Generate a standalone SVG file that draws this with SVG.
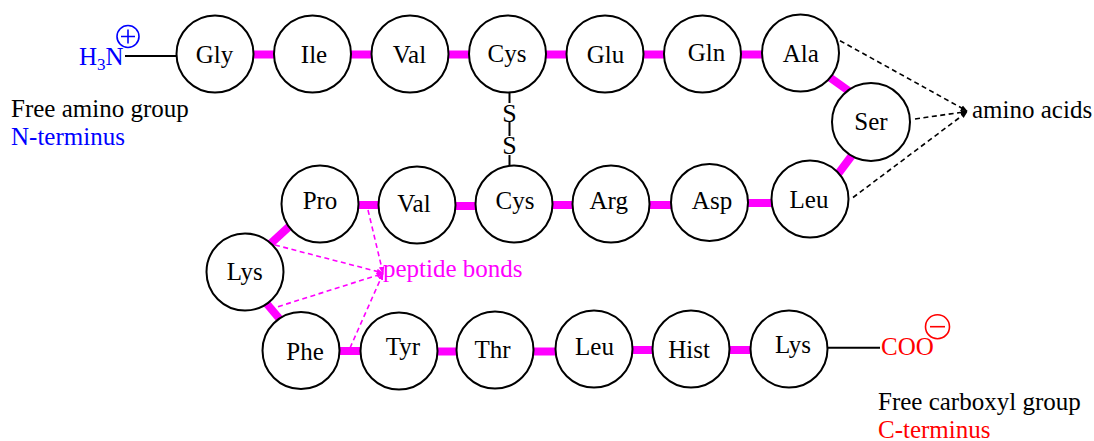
<svg xmlns="http://www.w3.org/2000/svg" width="1094" height="441" viewBox="0 0 1094 441">
<style>
text{font-family:"Liberation Serif","Times New Roman",serif;font-size:25px;fill:#000}
.node circle{fill:#fff;stroke:#000;stroke-width:2}
.node text{text-anchor:middle}
.bond{stroke:#ff00ff;stroke-width:8;fill:none}
.line{stroke:#000;stroke-width:2;fill:none}
.dk{stroke:#000;stroke-width:1.6;stroke-dasharray:5 3.5;fill:none}
.dm{stroke:#ff00ff;stroke-width:1.6;stroke-dasharray:5 3.5;fill:none}
.blue{fill:#0000ff}
.red{fill:#ff0000}
.mag{fill:#ff00ff}
.ss{font-size:26px;text-anchor:middle}
</style>
<defs>
<marker id="ak" viewBox="0 0 10 10" refX="9" refY="5" markerWidth="7" markerHeight="7" markerUnits="userSpaceOnUse" orient="auto"><path d="M0,1 L10,5 L0,9 z" fill="#000"/></marker>
<marker id="am" viewBox="0 0 10 10" refX="9" refY="5" markerWidth="7" markerHeight="7" markerUnits="userSpaceOnUse" orient="auto"><path d="M0,1 L10,5 L0,9 z" fill="#ff00ff"/></marker>
</defs>
<g id="connectors">
<line class="bond" x1="215" y1="54.5" x2="312.5" y2="54.5"/>
<line class="bond" x1="312.5" y1="54.5" x2="410" y2="54.5"/>
<line class="bond" x1="410" y1="54.5" x2="507.5" y2="54.5"/>
<line class="bond" x1="507.5" y1="54.5" x2="605" y2="54.5"/>
<line class="bond" x1="605" y1="54.5" x2="702.5" y2="54.5"/>
<line class="bond" x1="702.5" y1="54.5" x2="800.5" y2="54.5"/>
<line class="bond" x1="825" y1="74" x2="853" y2="94"/>
<line class="bond" x1="856" y1="150" x2="835" y2="178"/>
<line class="bond" x1="320" y1="205" x2="417" y2="205"/>
<line class="bond" x1="417" y1="206" x2="514" y2="206"/>
<line class="bond" x1="514" y1="205" x2="611" y2="205"/>
<line class="bond" x1="611" y1="205" x2="709.5" y2="205"/>
<line class="bond" x1="709.5" y1="203" x2="810" y2="203"/>
<line class="bond" x1="293" y1="223" x2="268" y2="246"/>
<line class="bond" x1="262" y1="298" x2="283" y2="323"/>
<line class="bond" x1="301" y1="351" x2="399" y2="351"/>
<line class="bond" x1="399" y1="351.5" x2="495" y2="351.5"/>
<line class="bond" x1="495" y1="351.5" x2="594" y2="351.5"/>
<line class="bond" x1="594" y1="350" x2="691" y2="350"/>
<line class="bond" x1="691" y1="350" x2="789" y2="350"/>
<line class="line" x1="125" y1="56" x2="180" y2="56"/>
<line class="line" x1="825" y1="347.7" x2="880" y2="347.7"/>
<line class="line" x1="509.5" y1="90" x2="509.5" y2="103" stroke-width="2.5"/>
<line class="line" x1="509.5" y1="122" x2="509.5" y2="136" stroke-width="2.5"/>
<line class="line" x1="509.5" y1="155" x2="509.5" y2="167" stroke-width="2.5"/>
<line class="dk" x1="840" y1="40.7" x2="967" y2="111" marker-end="url(#ak)"/>
<line class="dk" x1="915" y1="119" x2="967" y2="111.5" marker-end="url(#ak)"/>
<line class="dk" x1="853" y1="197.5" x2="967" y2="112" marker-end="url(#ak)"/>
<line class="dm" x1="275" y1="245" x2="383" y2="273" marker-end="url(#am)"/>
<line class="dm" x1="278" y1="306.7" x2="383" y2="273.5" marker-end="url(#am)"/>
<line class="dm" x1="368" y1="210" x2="383" y2="273" marker-end="url(#am)"/>
<line class="dm" x1="350" y1="348" x2="383" y2="273.5" marker-end="url(#am)"/>
</g>
<g id="n-gly" class="node"><circle cx="215" cy="54" r="38.5"/><text x="214.5" y="63">Gly</text></g>
<g id="n-ile" class="node"><circle cx="312.5" cy="54" r="38.5"/><text x="314" y="62.7">Ile</text></g>
<g id="n-val1" class="node"><circle cx="410" cy="54" r="38.5"/><text x="409.5" y="62.7">Val</text></g>
<g id="n-cys1" class="node"><circle cx="507.5" cy="54" r="38.5"/><text x="507" y="62">Cys</text></g>
<g id="n-glu" class="node"><circle cx="605" cy="54" r="38.5"/><text x="605.5" y="62.7">Glu</text></g>
<g id="n-gln" class="node"><circle cx="702.5" cy="54" r="38.5"/><text x="706.5" y="60.5">Gln</text></g>
<g id="n-ala" class="node"><circle cx="800.5" cy="53" r="38.5"/><text x="800.8" y="61.7">Ala</text></g>
<g id="n-ser" class="node"><circle cx="871" cy="122" r="39"/><text x="871" y="130">Ser</text></g>
<g id="n-leu1" class="node"><circle cx="810" cy="199" r="38.5"/><text x="809" y="208">Leu</text></g>
<g id="n-asp" class="node"><circle cx="709.5" cy="202.5" r="38.5"/><text x="712" y="209">Asp</text></g>
<g id="n-arg" class="node"><circle cx="611" cy="204" r="38.5"/><text x="608.7" y="209">Arg</text></g>
<g id="n-cys2" class="node"><circle cx="514" cy="204" r="38.5"/><text x="515" y="209.3">Cys</text></g>
<g id="n-val2" class="node"><circle cx="417" cy="205" r="38.5"/><text x="414" y="211.7">Val</text></g>
<g id="n-pro" class="node"><circle cx="320" cy="204" r="38.5"/><text x="320" y="209">Pro</text></g>
<g id="n-lys1" class="node"><circle cx="245" cy="272" r="38.5"/><text x="244.7" y="280">Lys</text></g>
<g id="n-phe" class="node"><circle cx="301" cy="350.5" r="38.5"/><text x="305" y="360">Phe</text></g>
<g id="n-tyr" class="node"><circle cx="399" cy="351" r="38.5"/><text x="403" y="355">Tyr</text></g>
<g id="n-thr" class="node"><circle cx="495" cy="350" r="38.5"/><text x="492.5" y="358">Thr</text></g>
<g id="n-leu2" class="node"><circle cx="594" cy="349" r="38.5"/><text x="594.5" y="355">Leu</text></g>
<g id="n-hist" class="node"><circle cx="691" cy="349" r="38.5"/><text x="689" y="357.7">Hist</text></g>
<g id="n-lys2" class="node"><circle cx="789" cy="349" r="38.5"/><text x="793" y="353">Lys</text></g>
<g id="n-term">
<text x="79" y="65" class="blue">H<tspan font-size="17" dy="5">3</tspan><tspan dy="-5">N</tspan></text>
<circle cx="128" cy="36.5" r="11" fill="none" stroke="#0000ff" stroke-width="1.6"/>
<path d="M121,36.5 H135 M128,29.5 V43.5" stroke="#0000ff" stroke-width="1.6"/>
<text x="11" y="117">Free amino group</text>
<text x="11" y="145" class="blue">N-terminus</text>
</g>
<g id="c-term">
<text x="881" y="355" class="red">COO</text>
<circle cx="937.5" cy="326.7" r="12" fill="none" stroke="#ff0000" stroke-width="1.6"/>
<path d="M930,326.7 H945" stroke="#ff0000" stroke-width="1.6"/>
<text x="878" y="410">Free carboxyl group</text>
<text x="878" y="438" class="red">C-terminus</text>
</g>
<g id="labels">
<text x="509.5" y="121.5" class="ss">S</text>
<text x="509.5" y="154" class="ss">S</text>
<text x="972" y="118">amino acids</text>
<text x="383" y="277" class="mag">peptide bonds</text>
</g>
</svg>
